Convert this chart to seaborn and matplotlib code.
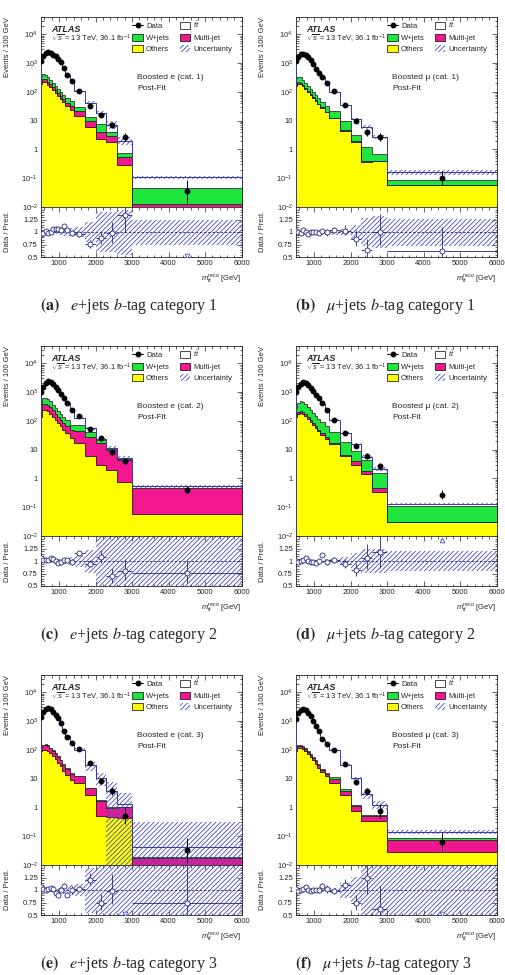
import numpy as np
import pandas as pd
import matplotlib
matplotlib.use("Agg")
import matplotlib.pyplot as plt
import seaborn as sns
from matplotlib.lines import Line2D
from matplotlib.patches import Patch
from matplotlib.ticker import FixedLocator, FixedFormatter, MultipleLocator, LogLocator, NullFormatter

# --- binning (GeV) ---
edges = [500, 540, 610, 680, 740, 810, 880, 945, 1020, 1090, 1160, 1300, 1400, 1700, 2000, 2300, 2600, 3000, 6000]

# --- (a) e+jets cat 1 --- (events / 100 GeV)
data_a = [1200, 1700, 2200, 2400, 2200, 1900, 1700, 1370, 1050, 670, 400, 230, 105, 32, 16, 7, 2.7, 0.035]
total_a = [1250, 1750, 2150, 2450, 2200, 1800, 1600, 1300, 1000, 600, 385, 235, 110, 42, 18, 7.2, 2.0, 0.11]
others_a = [190, 225, 215, 180, 145, 115, 90, 70, 55, 43, 32, 24, 14, 5.8, 2.3, 1.8, 0.29, 0.005]
multijet_a = [48, 58, 55, 45, 36, 29, 24, 19, 15, 12, 10, 8, 7, 4, 1.6, 1.2, 0.24, 0.008]
wjets_a = [105, 130, 120, 100, 80, 64, 50, 40, 32, 25, 20, 15, 9, 4, 3.6, 0.9, 0.24, 0.032]
band_a = [0.04, 0.03, 0.03, 0.03, 0.03, 0.03, 0.03, 0.04, 0.04, 0.05, 0.05, 0.06, 0.08, 0.12, 0.2, 0.3, 0.3, 0.12]
rband_a = [0.04, 0.03, 0.03, 0.03, 0.03, 0.04, 0.04, 0.05, 0.06, 0.07, 0.08, 0.08, 0.1, 0.2, 0.4, 0.4, 0.45, 0.25]

# --- (b) mu+jets cat 1 ---
data_b = [1150, 1650, 2000, 2100, 1900, 1600, 1250, 900, 600, 450, 330, 210, 105, 35, 10, 3.9, 2.7, 0.1]
total_b = [1130, 1650, 2040, 2020, 1900, 1650, 1260, 900, 600, 455, 325, 212, 101, 34, 11.5, 6.0, 2.7, 0.16]
others_b = [165, 195, 190, 160, 125, 100, 80, 62, 48, 37, 28, 20, 12, 4.4, 1.8, 0.37, 0.39, 0.058]
multijet_b = [25, 22, 18, 14, 10, 7, 5, 3.5, 2.5, 1.8, 1.2, 0.8, 0.4, 0.2, 0.1, 0.03, 0.01, 0.002]
wjets_b = [105, 120, 110, 90, 72, 57, 45, 35, 28, 22, 17, 12, 10, 5.5, 1.3, 0.8, 0.29, 0.027]
band_b = [0.03, 0.02, 0.02, 0.02, 0.02, 0.02, 0.02, 0.03, 0.03, 0.03, 0.04, 0.04, 0.05, 0.06, 0.1, 0.15, 0.15, 0.2]
rband_b = [0.03, 0.02, 0.02, 0.02, 0.02, 0.02, 0.02, 0.03, 0.03, 0.03, 0.04, 0.04, 0.05, 0.06, 0.15, 0.28, 0.32, 0.27]

# --- (c) e+jets cat 2 ---
data_c = [1040, 1550, 2000, 2450, 2300, 1900, 1470, 1200, 870, 610, 430, 240, 150, 52, 25, 8, 4.1, 0.4]
total_c = [990, 1520, 1980, 2380, 2190, 1810, 1470, 1240, 880, 600, 425, 247, 130, 55, 23, 11.5, 5.1, 0.53]
others_c = [135, 230, 240, 215, 180, 140, 108, 84, 65, 50, 37, 25, 17, 6.1, 3.0, 2.0, 0.78, 0.06]
multijet_c = [105, 150, 150, 135, 112, 90, 72, 58, 46, 37, 29, 24, 26, 21, 14, 7.5, 3.6, 0.40]
wjets_c = [170, 260, 250, 215, 180, 140, 110, 85, 65, 50, 38, 24, 30, 13, 5, 1, 0.2, 0.02]
band_c = [0.04, 0.03, 0.03, 0.03, 0.03, 0.03, 0.04, 0.04, 0.05, 0.05, 0.06, 0.07, 0.08, 0.1, 0.12, 0.2, 0.15, 0.1]
rband_c = [0.04, 0.03, 0.03, 0.03, 0.03, 0.03, 0.04, 0.05, 0.05, 0.06, 0.07, 0.08, 0.12, 0.23, 0.5, 0.6, 0.6, 0.6]

# --- (d) mu+jets cat 2 ---
data_d = [990, 1470, 1900, 2200, 2000, 1700, 1360, 1130, 800, 610, 430, 240, 110, 37, 13, 6, 2.6, 0.27]
total_d = [990, 1500, 1900, 2140, 1900, 1700, 1390, 1150, 825, 615, 385, 247, 108, 39, 16, 5.7, 2.2, 0.13]
others_d = [135, 180, 185, 170, 145, 120, 92, 72, 56, 44, 33, 24, 16, 5.8, 3.0, 1.4, 0.33, 0.03]
multijet_d = [25, 30, 29, 26, 22, 18, 14, 11, 8, 6, 4.5, 3, 1.5, 0.8, 0.9, 0.35, 0.12, 0.001]
wjets_d = [120, 220, 290, 270, 220, 175, 140, 110, 88, 68, 52, 38, 23, 11.4, 5.1, 2.75, 1.15, 0.08]
band_d = [0.03, 0.02, 0.02, 0.02, 0.02, 0.02, 0.02, 0.03, 0.03, 0.03, 0.03, 0.04, 0.04, 0.06, 0.1, 0.15, 0.15, 0.1]
rband_d = [0.03, 0.02, 0.02, 0.02, 0.02, 0.02, 0.02, 0.03, 0.03, 0.03, 0.03, 0.04, 0.04, 0.08, 0.16, 0.24, 0.24, 0.2]

# --- (e) e+jets cat 3 ---
data_e = [1430, 2150, 2650, 2800, 2600, 2150, 1640, 1260, 850, 460, 270, 170, 105, 35, 8, 3.7, 0.52, 0.032]
total_e = [1360, 2110, 2650, 2720, 2480, 2110, 1730, 1400, 850, 425, 297, 170, 102, 29, 10.7, 3.8, 1.3, 0.043]
others_e = [88, 100, 100, 90, 75, 60, 47, 36, 27, 19, 13, 9, 7, 2.6, 0.5, 0.45, 0.42, 0.005]
multijet_e = [25, 45, 50, 48, 42, 34, 27, 21, 16, 12, 9, 6, 5, 2.0, 1.2, 0.5, 0.6, 0.012]
wjets_e = [3, 5, 5, 5, 4, 3, 2.5, 2, 1.5, 1.2, 0.9, 0.6, 0.4, 0.15, 0.08, 0.05, 0.05, 0.002]
band_e = [0.04, 0.04, 0.04, 0.04, 0.04, 0.04, 0.04, 0.05, 0.05, 0.06, 0.07, 0.08, 0.12, 0.35, 0.5, 1.0, 1.5, 6.0]
rband_e = [0.04, 0.04, 0.04, 0.04, 0.04, 0.04, 0.04, 0.05, 0.06, 0.07, 0.08, 0.1, 0.12, 0.45, 0.6, 0.6, 0.6, 0.6]

# --- (f) mu+jets cat 3 ---
data_f = [1160, 1880, 2450, 2600, 2450, 1970, 1500, 1020, 680, 460, 235, 160, 100, 33, 7.6, 3.6, 0.77, 0.065]
total_f = [1130, 1920, 2450, 2550, 2330, 1970, 1530, 1020, 680, 460, 218, 158, 102, 30, 10.3, 2.9, 1.25, 0.145]
others_f = [95, 112, 115, 105, 90, 72, 56, 43, 33, 24, 17, 12, 7, 2.8, 0.75, 0.35, 0.35, 0.028]
multijet_f = [30, 26, 24, 21, 18, 15, 12, 9, 7, 5, 3.5, 2.5, 2.6, 0.9, 0.35, 0.15, 0.15, 0.047]
wjets_f = [8, 10, 10, 9, 8, 7, 5, 4, 3, 2.5, 2, 1.5, 1.4, 0.7, 0.1, 0.05, 0.05, 0.015]
band_f = [0.03, 0.02, 0.02, 0.02, 0.02, 0.02, 0.02, 0.03, 0.03, 0.03, 0.04, 0.05, 0.06, 0.1, 0.15, 0.3, 0.3, 0.15]
rband_f = [0.03, 0.02, 0.02, 0.02, 0.02, 0.02, 0.02, 0.03, 0.03, 0.03, 0.04, 0.04, 0.05, 0.15, 0.27, 0.6, 0.6, 0.6]

panels = [
    ("a", "e", 1, data_a, total_a, others_a, multijet_a, wjets_a, band_a, rband_a),
    ("b", "μ", 1, data_b, total_b, others_b, multijet_b, wjets_b, band_b, rband_b),
    ("c", "e", 2, data_c, total_c, others_c, multijet_c, wjets_c, band_c, rband_c),
    ("d", "μ", 2, data_d, total_d, others_d, multijet_d, wjets_d, band_d, rband_d),
    ("e", "e", 3, data_e, total_e, others_e, multijet_e, wjets_e, band_e, rband_e),
    ("f", "μ", 3, data_f, total_f, others_f, multijet_f, wjets_f, band_f, rband_f),
]

# --- style ---
sns.set_style("ticks")
plt.rcParams["font.family"] = ["Liberation Sans", "DejaVu Sans"]
hatch_col = "#4848c8"
plt.rcParams.update({
    "mathtext.fontset": "custom",
    "mathtext.rm": "Liberation Sans",
    "mathtext.it": "Liberation Sans:italic",
    "mathtext.bf": "Liberation Sans:bold",
    "hatch.linewidth": 0.6,
    "hatch.color": hatch_col,
    "axes.linewidth": 0.6,
})

order = ["ttbar", "W+jets", "Multi-jet", "Others"]
palette = {"ttbar": "white", "W+jets": "#1ee63c", "Multi-jet": "#f2168f", "Others": "#ffff00"}
navy = "#24247e"
fs = 5.5
hatch = "///////"

edges_arr = np.array(edges, dtype=float)
centers = 0.5 * (edges_arr[1:] + edges_arr[:-1])
widths = np.diff(edges_arr)

fig = plt.figure(figsize=(5.05, 9.75), dpi=100)
W, H = 505.0, 975.0
lefts = [40.7, 295.7]
tops = [17, 346, 675]
aw, mh, rh = 201.0, 190.0, 50.0

for i, (tag, lep, cat, data, total, others, multi, wjets, band, rband) in enumerate(panels):
    left = lefts[i % 2]
    top = tops[i // 2]
    ax = fig.add_axes([left / W, 1 - (top + mh) / H, aw / W, mh / H])
    axr = fig.add_axes([left / W, 1 - (top + mh + rh) / H, aw / W, rh / H], sharex=ax)

    data = np.array(data, float)
    total = np.array(total, float)
    bkg = np.array(others) + np.array(multi) + np.array(wjets)
    ttbar = total - bkg

    df = pd.DataFrame({
        "mtt": np.tile(centers, 4),
        "w": np.concatenate([ttbar, wjets, multi, others]),
        "process": np.repeat(order, len(centers)),
    })
    sns.histplot(data=df, x="mtt", weights="w", hue="process", hue_order=order,
                 multiple="stack", bins=edges, element="step", fill=True,
                 palette=palette, alpha=1, edgecolor="black", linewidth=0.4,
                 legend=False, ax=ax)
    ax.set_yscale("log")

    # uncertainty band + total outline
    band = np.array(band)
    lo = np.clip(total * (1 - band), 1e-4, None)
    ax.stairs(total * (1 + band), edges, baseline=lo, fill=True, facecolor="none",
              edgecolor=hatch_col, hatch=hatch, linewidth=0, zorder=3)
    ax.stairs(total, edges, color="#3a3aa8", linewidth=0.7, zorder=3)

    # data with Poisson-like errors
    n = data * widths / 100.0
    up = (0.5 + np.sqrt(n + 0.25)) * 100.0 / widths
    dn = (-0.5 + np.sqrt(n + 0.25)) * 100.0 / widths
    ax.errorbar(centers, data, yerr=[dn, up], fmt="o", color="black", ms=3.2,
                elinewidth=0.7, capsize=0, zorder=5)

    ax.set_xlim(500, 6000)
    ax.set_ylim(1e-2, 4e4)
    ax.yaxis.set_major_locator(FixedLocator([1e-2, 1e-1, 1, 10, 1e2, 1e3, 1e4]))
    ax.yaxis.set_major_formatter(FixedFormatter([r"$10^{-2}$", r"$10^{-1}$", "1", "10",
                                                 r"$10^{2}$", r"$10^{3}$", r"$10^{4}$"]))
    ax.yaxis.set_minor_locator(LogLocator(base=10, subs=np.arange(2, 10), numticks=20))
    ax.yaxis.set_minor_formatter(NullFormatter())
    ax.xaxis.set_major_locator(MultipleLocator(1000))
    ax.xaxis.set_minor_locator(MultipleLocator(200))
    ax.tick_params(which="both", direction="in", top=True, right=True, labelsize=fs,
                   width=0.5, pad=2, labelbottom=False)
    ax.tick_params(which="major", length=3.5)
    ax.tick_params(which="minor", length=1.8)
    ax.set_xlabel("")
    ax.set_ylabel("Events / 100 GeV", loc="top", fontsize=fs)
    ax.yaxis.set_label_coords(-0.15, 1.0)

    ax.text(0.05, 0.935, "ATLAS", transform=ax.transAxes, fontsize=6.5,
            fontweight="bold", style="italic", va="center")
    ax.text(0.05, 0.885, r"$\sqrt{s}$ = 13 TeV, 36.1 fb$^{-1}$", transform=ax.transAxes,
            fontsize=fs, va="center")
    ax.text(0.48, 0.68, f"Boosted {lep} (cat. {cat})", transform=ax.transAxes,
            fontsize=6, va="center")
    ax.text(0.48, 0.625, "Post-Fit", transform=ax.transAxes, fontsize=6, va="center")

    handles = [
        Line2D([0], [0], color="black", marker="o", ms=3.2, lw=0.7),
        Patch(facecolor=palette["W+jets"], edgecolor="black", lw=0.5),
        Patch(facecolor=palette["Others"], edgecolor="black", lw=0.5),
        Patch(facecolor="white", edgecolor="black", lw=0.5),
        Patch(facecolor=palette["Multi-jet"], edgecolor="black", lw=0.5),
        Patch(facecolor="white", edgecolor=hatch_col, hatch=hatch, lw=0),
    ]
    labels = ["Data", "W+jets", "Others", r"$t\bar{t}$", "Multi-jet", "Uncertainty"]
    ax.legend(handles, labels, ncol=2, loc="upper left", bbox_to_anchor=(0.455, 0.985),
              fontsize=fs, frameon=False, handlelength=1.4, handleheight=1.0,
              handletextpad=0.4, columnspacing=1.3, labelspacing=0.45,
              borderaxespad=0, borderpad=0)

    # --- ratio panel ---
    ratio = data / total
    rband = np.array(rband)
    axr.stairs(1 + rband, edges, baseline=1 - rband, fill=True, facecolor="none",
               edgecolor=hatch_col, hatch=hatch, linewidth=0)
    axr.axhline(1, ls=(0, (3, 2)), color=navy, lw=0.6)
    inr = (ratio > 0.5) & (ratio < 1.5)
    axr.errorbar(centers[inr], ratio[inr], xerr=widths[inr] / 2,
                 yerr=[dn[inr] / total[inr], up[inr] / total[inr]], fmt="o",
                 mfc="white", mec=navy, color=navy, ms=3.6, mew=0.6,
                 elinewidth=0.6, capsize=0, zorder=5)
    low = ratio <= 0.5
    high = ratio >= 1.5
    axr.plot(centers[low], np.full(low.sum(), 0.53), "v", mfc="white", mec="#4a4ac0",
             ms=3.4, mew=0.6, ls="none", zorder=5)
    axr.plot(centers[high], np.full(high.sum(), 1.43), "^", mfc="white", mec="#4a4ac0",
             ms=3.4, mew=0.6, ls="none", zorder=5)

    axr.set_ylim(0.5, 1.5)
    axr.yaxis.set_major_locator(FixedLocator([0.5, 0.75, 1.0, 1.25]))
    axr.yaxis.set_major_formatter(FixedFormatter(["0.5", "0.75", "1", "1.25"]))
    axr.yaxis.set_minor_locator(MultipleLocator(0.05))
    axr.tick_params(which="both", direction="in", top=True, right=True, labelsize=fs,
                    width=0.5, pad=2)
    axr.tick_params(which="major", length=3.5)
    axr.tick_params(which="minor", length=1.8)
    axr.set_ylabel("Data / Pred.", fontsize=fs)
    axr.yaxis.set_label_coords(-0.15, 0.5)
    axr.set_xlabel(r"$m_{t\bar{t}}^{\mathrm{reco}}$ [GeV]", loc="right", fontsize=fs)
    axr.xaxis.set_label_coords(1.0, -0.30)

    # caption
    lep_tex = r"$e$" if lep == "e" else r"$\mu$"
    fig.text((left - 1) / W, 1 - (top + 289) / H,
             rf"$\mathbf{{({tag})}}$   {lep_tex}+jets $b$-tag category {cat}",
             fontsize=11.5, family="Liberation Serif", math_fontfamily="stix",
             ha="left", va="center")

fig.savefig("out.png", dpi=100)
